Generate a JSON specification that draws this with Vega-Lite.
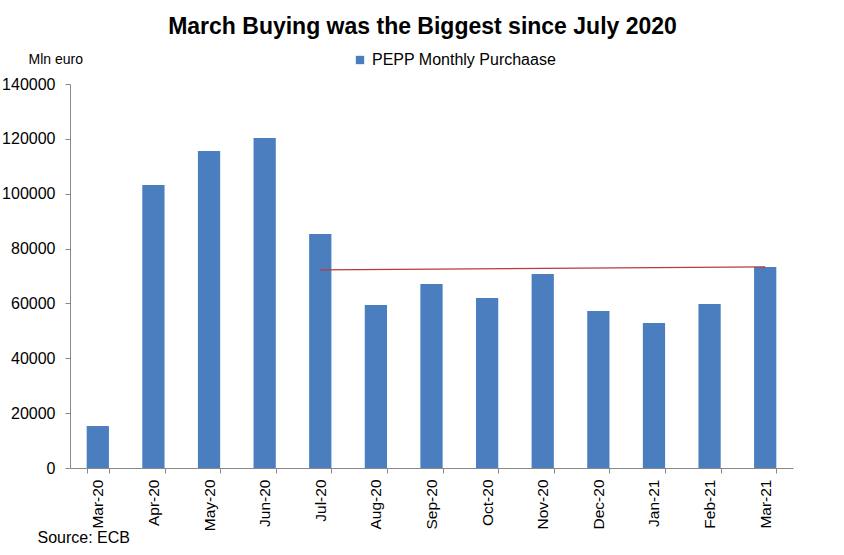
{
  "$schema": "https://vega.github.io/schema/vega-lite/v6.json",
  "width": 723,
  "height": 384,
  "autosize": {"type": "none"},
  "padding": {"left": 70, "top": 84, "right": 51, "bottom": 87},
  "background": "white",
  "config": {
    "font": "Liberation Sans",
    "view": {"stroke": null}
  },
  "title": {
    "text": "March Buying was the Biggest since July 2020",
    "fontSize": 23,
    "fontWeight": "bold",
    "color": "black",
    "anchor": "middle",
    "offset": 13,
    "dx": -9
  },
  "datasets": {
    "bars": [
      {"month": "Mar-20", "value": 15300, "series": "PEPP Monthly Purchaase"},
      {"month": "Apr-20", "value": 103200, "series": "PEPP Monthly Purchaase"},
      {"month": "May-20", "value": 115600, "series": "PEPP Monthly Purchaase"},
      {"month": "Jun-20", "value": 120300, "series": "PEPP Monthly Purchaase"},
      {"month": "Jul-20", "value": 85300, "series": "PEPP Monthly Purchaase"},
      {"month": "Aug-20", "value": 59400, "series": "PEPP Monthly Purchaase"},
      {"month": "Sep-20", "value": 67100, "series": "PEPP Monthly Purchaase"},
      {"month": "Oct-20", "value": 62000, "series": "PEPP Monthly Purchaase"},
      {"month": "Nov-20", "value": 70700, "series": "PEPP Monthly Purchaase"},
      {"month": "Dec-20", "value": 57200, "series": "PEPP Monthly Purchaase"},
      {"month": "Jan-21", "value": 52900, "series": "PEPP Monthly Purchaase"},
      {"month": "Feb-21", "value": 59800, "series": "PEPP Monthly Purchaase"},
      {"month": "Mar-21", "value": 73300, "series": "PEPP Monthly Purchaase"}
    ],
    "trend": [
      {"month": "Jul-20", "value": 72200},
      {"month": "Mar-21", "value": 73300}
    ]
  },
  "layer": [
    {
      "data": {"name": "bars"},
      "mark": {"type": "bar"},
      "encoding": {
        "x": {
          "field": "month",
          "type": "nominal",
          "sort": null,
          "scale": {"paddingInner": 0.6, "paddingOuter": 0.3},
          "axis": {
            "title": "Source: ECB",
            "titleFontSize": 16,
            "titleFontWeight": "normal",
            "titleColor": "black",
            "titleAnchor": "start",
            "titleAlign": "left",
            "titleBaseline": "middle",
            "titleX": -33,
            "titleY": 69,
            "labelAngle": -90,
            "labelAlign": "right",
            "labelBaseline": "middle",
            "labelFontSize": 15.5,
            "labelColor": "black",
            "labelPadding": 6,
            "tickBand": "extent",
            "tickSize": 5,
            "tickColor": "#888888",
            "domainColor": "#888888",
            "grid": false
          }
        },
        "y": {
          "field": "value",
          "type": "quantitative",
          "scale": {"domain": [0, 140000], "nice": false},
          "axis": {
            "title": "Mln euro",
            "titleAngle": 0,
            "titleFontSize": 14,
            "titleFontWeight": "normal",
            "titleColor": "black",
            "titleAlign": "left",
            "titleBaseline": "middle",
            "titleX": -42,
            "titleY": -25,
            "values": [0, 20000, 40000, 60000, 80000, 100000, 120000, 140000],
            "format": "d",
            "labelFontSize": 16,
            "labelColor": "black",
            "labelPadding": 10,
            "tickSize": 5,
            "tickColor": "#888888",
            "domainColor": "#888888",
            "grid": false
          }
        },
        "color": {
          "field": "series",
          "type": "nominal",
          "scale": {"range": ["#4a7ebf"]},
          "legend": {
            "title": null,
            "orient": "none",
            "legendX": 282,
            "legendY": -32,
            "symbolType": "square",
            "symbolSize": 70,
            "labelFontSize": 16,
            "labelLimit": 400,
            "labelColor": "black",
            "labelOffset": 4
          }
        }
      }
    },
    {
      "data": {"name": "trend"},
      "mark": {"type": "line", "color": "#b83a3a", "strokeWidth": 1.2},
      "encoding": {
        "x": {"field": "month", "type": "nominal", "sort": null},
        "y": {"field": "value", "type": "quantitative"}
      }
    }
  ]
}
